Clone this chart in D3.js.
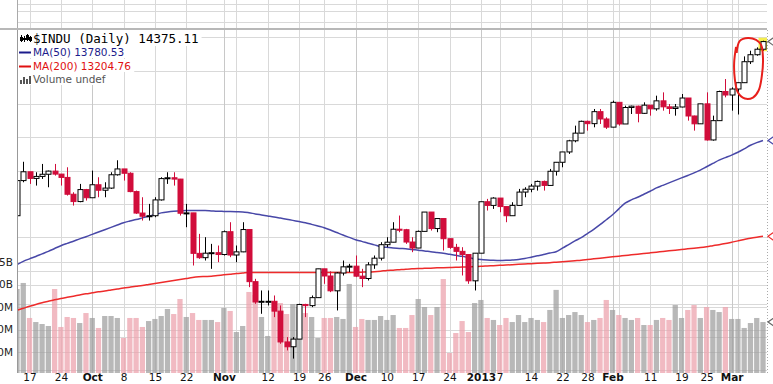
<!DOCTYPE html>
<html>
<head>
<meta charset="utf-8">
<script src="https://cdn.jsdelivr.net/npm/d3@7"></script>
<style>
  html, body { margin: 0; padding: 0; background: #fff; overflow: hidden; }
  svg { display: block; font-family: "DejaVu Sans", Verdana, sans-serif; }
</style>
</head>
<body>
<svg id="chart" width="773" height="384"></svg>
<script>
// ─── Data ─────────────────────────────────────────────────────────────────────

const dates = [
  "2012-09-13","2012-09-14","2012-09-17","2012-09-18","2012-09-19","2012-09-20","2012-09-21","2012-09-24","2012-09-25","2012-09-26",
  "2012-09-27","2012-09-28","2012-10-01","2012-10-02","2012-10-03","2012-10-04","2012-10-05","2012-10-08","2012-10-09","2012-10-10",
  "2012-10-11","2012-10-12","2012-10-15","2012-10-16","2012-10-17","2012-10-18","2012-10-19","2012-10-22","2012-10-23","2012-10-24",
  "2012-10-25","2012-10-26","2012-10-31","2012-11-01","2012-11-02","2012-11-05","2012-11-06","2012-11-07","2012-11-08","2012-11-09",
  "2012-11-12","2012-11-13","2012-11-14","2012-11-15","2012-11-16","2012-11-19","2012-11-20","2012-11-21","2012-11-23","2012-11-26",
  "2012-11-27","2012-11-28","2012-11-29","2012-11-30","2012-12-03","2012-12-04","2012-12-05","2012-12-06","2012-12-07","2012-12-10",
  "2012-12-11","2012-12-12","2012-12-13","2012-12-14","2012-12-17","2012-12-18","2012-12-19","2012-12-20","2012-12-21","2012-12-24",
  "2012-12-26","2012-12-27","2012-12-28","2012-12-31","2013-01-02","2013-01-03","2013-01-04","2013-01-07","2013-01-08","2013-01-09",
  "2013-01-10","2013-01-11","2013-01-14","2013-01-15","2013-01-16","2013-01-17","2013-01-18","2013-01-22","2013-01-23","2013-01-24",
  "2013-01-25","2013-01-28","2013-01-29","2013-01-30","2013-01-31","2013-02-01","2013-02-04","2013-02-05","2013-02-06","2013-02-07",
  "2013-02-08","2013-02-11","2013-02-12","2013-02-13","2013-02-14","2013-02-15","2013-02-19","2013-02-20","2013-02-21","2013-02-22",
  "2013-02-25","2013-02-26","2013-02-27","2013-02-28","2013-03-01","2013-03-04","2013-03-05","2013-03-06","2013-03-07","2013-03-08"
];

const opens = [
  13329,13540,13593,13553,13565,13578,13597,13579,13559,13458,
  13414,13486,13437,13515,13482,13495,13575,13610,13584,13474,
  13345,13326,13329,13424,13552,13557,13549,13344,13346,13103,
  13077,13104,13107,13096,13233,13093,13112,13246,12933,12811,
  12815,12815,12756,12571,12542,12588,12796,12789,12837,13010,
  12967,12878,12985,13022,13026,12966,12952,13034,13074,13155,
  13170,13248,13245,13171,13135,13235,13351,13252,13312,13191,
  13139,13115,13096,12938,13104,13413,13391,13435,13384,13329,
  13391,13471,13488,13507,13535,13511,13596,13650,13712,13779,
  13825,13896,13882,13954,13910,13861,14010,13880,13979,13987,
  13944,13993,13971,14019,13983,13973,13982,14036,13928,13881,
  14001,13784,13900,14075,14054,14090,14128,14254,14296,14329
];

const highs = [
  13573,13653,13593,13590,13640,13600,13640,13580,13620,13470,
  13520,13490,13600,13560,13530,13590,13662,13600,13590,13480,
  13440,13400,13440,13560,13590,13590,13550,13400,13346,13220,
  13200,13160,13150,13240,13290,13150,13290,13245,12950,12880,
  12880,12850,12790,12600,12600,12800,12800,12850,13010,13010,
  12995,12990,13060,13040,13090,13010,13050,13090,13170,13200,
  13290,13330,13250,13200,13240,13350,13350,13312,13311,13191,
  13160,13140,13096,13104,13413,13430,13440,13435,13384,13410,
  13490,13500,13520,13540,13540,13610,13650,13712,13785,13870,
  13900,13900,13970,13970,13920,14020,14010,13990,13990,13990,
  14010,13990,14050,14070,14000,14000,14060,14036,13930,14001,
  14070,13930,14080,14150,14100,14130,14286,14320,14340,14380
];

const lows = [
  13329,13530,13520,13510,13550,13500,13570,13510,13450,13390,
  13410,13420,13480,13440,13440,13490,13570,13540,13470,13340,
  13300,13300,13320,13420,13520,13510,13330,13260,13030,13070,
  13060,13010,13050,13090,13080,13050,13110,12900,12800,12740,
  12790,12720,12560,12520,12471,12588,12720,12780,12837,12920,
  12870,12760,12970,12990,12960,12900,12940,13010,13060,13140,
  13170,13230,13160,13110,13135,13235,13240,13230,13120,13130,
  13060,12970,12920,12880,13104,13360,13370,13350,13290,13330,
  13390,13440,13470,13480,13480,13511,13570,13620,13700,13770,
  13825,13840,13860,13880,13850,13860,13870,13880,13940,13890,
  13940,13930,13960,13960,13940,13930,13980,13900,13840,13880,
  13780,13780,13900,14040,13960,13937,14128,14240,14290,14320
];

const closes = [
  13540,13593,13553,13565,13578,13597,13579,13559,13458,13414,
  13486,13437,13515,13482,13495,13575,13610,13584,13474,13345,
  13326,13329,13424,13552,13557,13549,13344,13346,13103,13077,
  13104,13107,13096,13233,13093,13112,13246,12933,12811,12815,
  12815,12756,12571,12542,12588,12796,12789,12837,13010,12967,
  12878,12985,13022,13026,12966,12952,13034,13074,13155,13170,
  13248,13245,13171,13135,13235,13351,13252,13312,13191,13139,
  13115,13096,12938,13104,13413,13391,13435,13384,13329,13391,
  13471,13488,13507,13535,13511,13596,13650,13712,13779,13825,
  13896,13882,13954,13910,13861,14010,13880,13979,13987,13944,
  13993,13971,14019,13983,13973,13982,14036,13928,13881,14001,
  13784,13900,14075,14054,14090,14128,14254,14296,14329,14375
];

// volume in millions of shares
const volumes = [
  950,1017,628,583,561,539,950,528,639,628,
  572,683,628,517,650,650,628,406,628,628,
  528,594,617,650,728,672,839,639,683,606,
  606,606,583,739,706,472,539,917,883,639,
  428,806,794,672,783,750,683,639,406,628,
  628,639,617,1006,528,617,606,606,650,606,
  661,517,517,661,839,750,661,750,1061,239,
  461,594,472,794,828,628,606,550,628,583,
  661,583,628,606,583,717,940,628,661,694,
  661,583,606,628,828,717,661,628,606,628,
  550,550,606,628,606,772,628,717,772,628,
  750,717,694,750,617,617,517,572,628,583
];

const ma50 = [
  13036,13055,13070,13084,13100,13115,13132,13149,13163,13176,
  13190,13203,13217,13231,13245,13259,13273,13287,13297,13306,
  13316,13326,13336,13346,13352,13356,13358,13360,13361,13361,
  13360,13358,13356,13355,13354,13353,13352,13347,13340,13334,
  13328,13322,13315,13308,13301,13294,13287,13277,13267,13257,
  13243,13228,13213,13199,13185,13175,13164,13154,13143,13139,
  13135,13132,13131,13126,13122,13117,13113,13108,13103,13097,
  13091,13085,13078,13071,13066,13063,13061,13060,13061,13063,
  13066,13072,13080,13088,13096,13105,13113,13134,13156,13178,
  13197,13222,13247,13275,13305,13335,13370,13404,13424,13440,
  13458,13476,13496,13511,13526,13541,13556,13571,13586,13603,
  13623,13643,13663,13678,13693,13710,13730,13752,13768,13781
];

const ma200 = [
  12761,12773,12785,12796,12806,12815,12824,12832,12839,12846,
  12853,12860,12866,12872,12877,12883,12889,12895,12900,12905,
  12910,12916,12922,12928,12934,12940,12946,12952,12958,12962,
  12964,12966,12970,12974,12978,12982,12985,12988,12988,12988,
  12988,12988,12988,12988,12988,12988,12988,12988,12988,12988,
  12988,12988,12988,12988,12989,12990,12991,12993,12996,13000,
  13002,13005,13008,13010,13012,13013,13014,13016,13017,13018,
  13019,13021,13022,13024,13025,13027,13029,13031,13033,13035,
  13037,13039,13041,13043,13045,13047,13050,13053,13056,13059,
  13062,13066,13070,13074,13078,13082,13086,13090,13094,13098,
  13102,13106,13110,13114,13118,13122,13126,13130,13134,13138,
  13143,13149,13155,13162,13170,13178,13186,13194,13200,13205
];

const tickDates = [
  "2012-09-17","2012-09-24","2012-10-01","2012-10-08","2012-10-15","2012-10-22","2012-11-01","2012-11-05",
  "2012-11-12","2012-11-19","2012-11-26","2012-12-03","2012-12-10","2012-12-17","2012-12-24","2013-01-02",
  "2013-01-07","2013-01-14","2013-01-22","2013-01-28","2013-02-01","2013-02-04","2013-02-11","2013-02-19",
  "2013-02-25","2013-03-01","2013-03-04"
];
const tickLabels = [
  "17","24","Oct","8","15","22","Nov","",
  "12","19","26","Dec","10","17","24","2013",
  "7","14","22","28","Feb","","11","19",
  "25","Mar",""
];
const monthLabels = ["Oct","Nov","Dec","2013","Feb","Mar"];

const priceTicks = [12400,12600,12800,13000,13200,13400,13600,13800,14000,14200,14400];
const volTicks = [250,500,750,1000,1250];
const volTickLabels = ["250M","500M","750M","1.0B","1.25B"];

// hand-drawn red loop around the last bars (bar index, price)
const loopIdx   = [114.8,115.3,116.6,117.9,118.7,119.0,118.8,118.3,117.4,116.1,115.0,114.5,114.4,114.7];
const loopPrice = [14307,14379,14397,14385,14355,14272,14164,14081,14039,14033,14069,14152,14248,14343];

const legendLines = [
  { text: "$INDU (Daily) 14375.11", color: "#000", size: 12.5, font: "DejaVu Sans Mono, monospace" },
  { text: "MA(50) 13780.53", color: "#1c1c8c", size: 10.5, font: "DejaVu Sans, Verdana, sans-serif" },
  { text: "MA(200) 13204.76", color: "#e01010", size: 10.5, font: "DejaVu Sans, Verdana, sans-serif" },
  { text: "Volume undef", color: "#555", size: 10.5, font: "DejaVu Sans, Verdana, sans-serif" }
];

// ─── Setup ────────────────────────────────────────────────────────────────────

const plotL = 17, plotR = 767, plotT = 30, plotB = 373;
const grid = "#d9d9d9";
const upColor = "#000", downColor = "#d10d3b";

const svg = d3.select("#chart");

const x = d3.scaleLinear().domain([0, dates.length - 1]).range([17, 763]);
const y = d3.scaleLinear().domain([12400, 14400]).range([370.4, 37.4]);
const yVol = d3.scaleLinear().domain([0, 1250]).range([374.5, 262]);
const step = x(1) - x(0);
const tickIdx = tickDates.map(d => dates.indexOf(d));

svg.append("defs").append("clipPath").attr("id", "plotClip")
  .append("rect").attr("x", plotL).attr("y", plotT)
  .attr("width", plotR - plotL).attr("height", plotB - plotT);

// ─── Upper panel remnant ──────────────────────────────────────────────────────

const topPanel = svg.append("g");
topPanel.selectAll("line.tv").data(tickIdx).join("line")
  .attr("x1", d => Math.round(x(d)) + 0.5).attr("x2", d => Math.round(x(d)) + 0.5)
  .attr("y1", 0).attr("y2", 28).attr("stroke", grid);
topPanel.selectAll("line.th").data([4, 11, 22]).join("line")
  .attr("x1", plotL).attr("x2", plotR).attr("y1", d => d + 0.5).attr("y2", d => d + 0.5)
  .attr("stroke", grid);
topPanel.append("line").attr("x1", plotL + 0.5).attr("x2", plotL + 0.5).attr("y1", 0).attr("y2", 28).attr("stroke", "#aaa");
topPanel.append("rect").attr("x", 0).attr("y", 28).attr("width", plotR).attr("height", 2).attr("fill", "#b8b8b8");

// ─── Gridlines ────────────────────────────────────────────────────────────────

const g = svg.append("g").attr("clip-path", "url(#plotClip)");

g.selectAll("line.hp").data(priceTicks).join("line")
  .attr("x1", plotL).attr("x2", plotR)
  .attr("y1", d => Math.round(y(d)) + 0.5).attr("y2", d => Math.round(y(d)) + 0.5)
  .attr("stroke", grid);

g.selectAll("line.hv").data(volTicks).join("line")
  .attr("x1", plotL).attr("x2", plotR)
  .attr("y1", d => Math.round(yVol(d)) + 0.5).attr("y2", d => Math.round(yVol(d)) + 0.5)
  .attr("stroke", grid);

g.selectAll("line.vg").data(tickIdx).join("line")
  .attr("x1", d => Math.round(x(d)) + 0.5).attr("x2", d => Math.round(x(d)) + 0.5)
  .attr("y1", plotT).attr("y2", plotB)
  .attr("stroke", (d, i) => monthLabels.includes(tickLabels[i]) ? "#c8c8c8" : grid);

// ─── Volume ───────────────────────────────────────────────────────────────────

g.selectAll("rect.vol").data(volumes).join("rect")
  .attr("x", (d, i) => x(i) - step / 2 + 0.5)
  .attr("width", step - 1)
  .attr("y", d => yVol(d))
  .attr("height", d => yVol(0) - yVol(d))
  .attr("fill", (d, i) => (i === 0 || closes[i] >= closes[i - 1]) ? "#9c9c9c" : "#eba0ab")
  .attr("fill-opacity", 0.72);

// ─── Moving averages ──────────────────────────────────────────────────────────

const maLine = arr => d3.line().x((d, i) => x(i)).y(d => y(d)).curve(d3.curveMonotoneX)(arr);
g.append("path").attr("d", maLine(ma200)).attr("fill", "none").attr("stroke", "#ee2b2b").attr("stroke-width", 1.5);
g.append("path").attr("d", maLine(ma50)).attr("fill", "none").attr("stroke", "#4848a8").attr("stroke-width", 1.5);

// ─── Candles ──────────────────────────────────────────────────────────────────

const last = closes.length - 1;
// last bar highlight
g.append("rect")
  .attr("x", x(last) - 4.5).attr("width", 9)
  .attr("y", y(highs[last]) - 3).attr("height", y(opens[last]) - y(highs[last]) + 5)
  .attr("fill", "#f5ee50");

const candles = g.selectAll("g.candle").data(closes).join("g").attr("class", "candle");
const colorOf = i => (i === 0 || closes[i] >= closes[i - 1]) ? upColor : downColor;

candles.append("line")
  .attr("x1", (d, i) => Math.round(x(i)) + 0.5).attr("x2", (d, i) => Math.round(x(i)) + 0.5)
  .attr("y1", (d, i) => y(highs[i])).attr("y2", (d, i) => y(lows[i]))
  .attr("stroke", (d, i) => colorOf(i));

candles.append("rect")
  .attr("x", (d, i) => Math.round(x(i)) - 2)
  .attr("width", 5)
  .attr("y", (d, i) => y(Math.max(opens[i], closes[i])))
  .attr("height", (d, i) => Math.max(1, Math.abs(y(opens[i]) - y(closes[i]))))
  .attr("fill", (d, i) => closes[i] >= opens[i] ? "#fff" : colorOf(i))
  .attr("stroke", (d, i) => colorOf(i));

// ─── Annotation ───────────────────────────────────────────────────────────────

svg.append("path")
  .attr("d", d3.line().x(d => x(d[0])).y(d => y(d[1])).curve(d3.curveCatmullRom)(loopIdx.map((v, i) => [v, loopPrice[i]])))
  .attr("fill", "none").attr("stroke", "#e8201c").attr("stroke-width", 2);

// ─── Borders & value tags ─────────────────────────────────────────────────────

svg.append("line").attr("x1", plotL + 0.5).attr("x2", plotL + 0.5).attr("y1", plotT).attr("y2", plotB).attr("stroke", "#999");
svg.append("line").attr("x1", plotR + 0.5).attr("x2", plotR + 0.5).attr("y1", plotT).attr("y2", plotB)
  .attr("stroke", "#aaa").attr("stroke-dasharray", "1,2");

const tags = [
  { v: y(ma50[last]), c: "#4848a8" },
  { v: y(ma200[last]), c: "#ee2b2b" },
  { v: yVol(volumes[last]), c: "#666" },
  { v: y(closes[last]), c: "#666" }
];
svg.selectAll("path.tag").data(tags).join("path")
  .attr("d", d => `M775,${d.v - 5}L768,${d.v}L775,${d.v + 5}`)
  .attr("fill", "#fff").attr("stroke", d => d.c).attr("stroke-width", 1.2);

// ─── Axes ─────────────────────────────────────────────────────────────────────

const xAxis = svg.append("g")
  .attr("transform", `translate(0,${plotB + 1})`)
  .call(d3.axisBottom(x).tickValues(tickIdx).tickSize(0).tickPadding(0)
    .tickFormat((d, i) => tickLabels[i]));
xAxis.select(".domain").remove();
xAxis.selectAll("text")
  .attr("font-family", "DejaVu Sans, Verdana, sans-serif")
  .attr("font-size", 10.5)
  .attr("fill", "#111")
  .attr("font-weight", (d, i) => monthLabels.includes(tickLabels[i]) ? "bold" : "normal");

// volume labels are clipped by the left edge in the reference
const vAxis = svg.append("g")
  .attr("transform", `translate(${plotL - 4},0)`)
  .call(d3.axisLeft(yVol).tickValues(volTicks).tickSize(0).tickPadding(0)
    .tickFormat((d, i) => volTickLabels[i]));
vAxis.select(".domain").remove();
vAxis.selectAll("text")
  .attr("font-family", "DejaVu Sans, Verdana, sans-serif")
  .attr("font-size", 10.5).attr("fill", "#222");

// ─── Legend ───────────────────────────────────────────────────────────────────

const legend = svg.append("g");
const lineY = [43, 56, 70, 83];
legendLines.forEach((l, i) => {
  const t = legend.append("text")
    .attr("x", 33).attr("y", lineY[i])
    .attr("font-family", l.font)
    .attr("font-size", l.size).attr("fill", l.color)
    .text(l.text);
  const bb = t.node().getBBox();
  legend.insert("rect", "text")
    .attr("x", plotL + 1).attr("y", bb.y - 1)
    .attr("width", bb.x + bb.width - plotL + 2).attr("height", bb.height + 1)
    .attr("fill", "#fff");
});
// icons
legend.append("line").attr("x1", 19).attr("x2", 31).attr("y1", 52.5).attr("y2", 52.5).attr("stroke", "#1c1c8c").attr("stroke-width", 2);
legend.append("line").attr("x1", 19).attr("x2", 31).attr("y1", 66.5).attr("y2", 66.5).attr("stroke", "#e01010").attr("stroke-width", 2);
const candleIcon = [[21, 35, 42, 37, 41], [24, 36, 42, 38, 40], [27, 34, 41, 35, 40], [30, 36, 42, 37, 41]];
candleIcon.forEach(c => {
  legend.append("line").attr("x1", c[0] + 0.5).attr("x2", c[0] + 0.5).attr("y1", c[1]).attr("y2", c[2]).attr("stroke", "#000");
  legend.append("rect").attr("x", c[0] - 1).attr("width", 3).attr("y", c[3]).attr("height", c[4] - c[3]).attr("fill", "#000");
});
[[20, 80], [23, 77], [26, 79], [29, 76]].forEach(b => {
  legend.append("rect").attr("x", b[0]).attr("y", b[1]).attr("width", 2).attr("height", 84 - b[1]).attr("fill", "#555");
});
</script>
</body>
</html>
